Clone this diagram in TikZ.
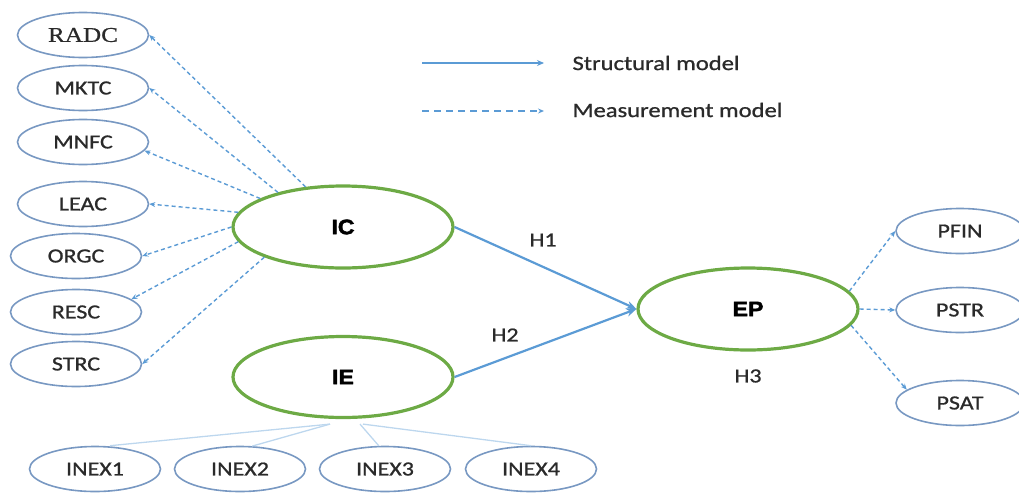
\documentclass[tikz,border=0pt]{standalone}
\usepackage{fontspec}
\usetikzlibrary{shapes.geometric,arrows.meta,calc}
\setmainfont{Carlito}
\newfontfamily\labfont[FakeStretch=1.2,FakeBold=0.9]{Carlito}
\newfontfamily\serfont[FakeStretch=1.2,FakeBold=0.6]{Liberation Serif}
\newfontfamily\hdfont[FakeStretch=1.1,FakeBold=2.2]{Liberation Sans}
\definecolor{indborder}{HTML}{7898C2}
\definecolor{latgreen}{HTML}{6DAA45}
\definecolor{pathblue}{HTML}{5B9BD5}
\definecolor{loadblue}{HTML}{BDD7EE}
\definecolor{txt}{HTML}{2A2A2A}
\tikzset{
  indicator/.style={ellipse, draw=indborder, line width=1.6pt, minimum width=131pt,
    minimum height=45pt, inner sep=0pt, text=txt, font=\labfont\fontsize{20}{24}\selectfont},
  latent/.style={ellipse, draw=latgreen, line width=3.2pt, minimum width=220pt,
    minimum height=82pt, inner sep=0pt, text=black,
    font=\hdfont\bfseries\fontsize{21}{25}\selectfont},
  structural/.style={draw=pathblue, line width=2.2pt, -{Stealth[length=10pt,width=8pt]}},
  measurement/.style={draw=pathblue, line width=1.4pt, dash pattern=on 4pt off 3pt,
    -{Stealth[length=6pt,width=5pt]}},
  formative/.style={draw=loadblue, line width=1.3pt},
  hlabel/.style={text=txt, font=\labfont\fontsize{20}{24}\selectfont},
}
\begin{document}
\begin{tikzpicture}[x=1pt,y=-1pt]
\useasboundingbox (0,0) rectangle (1019,493);

% latent constructs
\node[latent] (ic) at (343,227) {IC};
\node[latent, minimum height=81pt] (ie) at (343,377) {IE};
\node[latent] (ep) at (748,309) {EP};

% indicators of IC
\node[indicator, font=\serfont\fontsize{21}{25}\selectfont] (radc) at (83,35) {RADC};
\node[indicator] (mktc) at (83,88) {MKTC};
\node[indicator] (mnfc) at (83,142) {MNFC};
\node[indicator] (leac) at (83,204) {LEAC};
\node[indicator] (orgc) at (76,256) {ORGC};
\node[indicator] (resc) at (76,312) {RESC};
\node[indicator] (strc) at (76,364) {STRC};

% indicators of IE
\node[indicator] (inex1) at (95,469) {INEX1};
\node[indicator] (inex2) at (240,469) {INEX2};
\node[indicator] (inex3) at (385,469) {INEX3};
\node[indicator] (inex4) at (531,469) {INEX4};

% indicators of EP
\node[indicator, minimum width=128pt] (pfin) at (960,231) {PFIN};
\node[indicator, minimum width=128pt] (pstr) at (960,310) {PSTR};
\node[indicator, minimum width=128pt] (psat) at (960,403) {PSAT};

% structural paths
\draw[structural] (ic.east) -- (ep.west);
\draw[structural] (ie.east) -- (ep.west);
\node[hlabel] (h1) at (543,240) {H1};
\node[hlabel] (h2) at (505,335) {H2};
\node[hlabel] (h3) at (748,376) {H3};

% measurement paths of IC
\draw[measurement] (ic.133) -- (radc.east);
\draw[measurement] (ic.152) -- (mktc.east);
\draw[measurement] (ic.161) -- (mnfc.-8);
\draw[measurement] (ic.172) -- (leac.east);
\draw[measurement] (ic.180) -- (orgc.east);
\draw[measurement] (ic.188) -- (resc.13);
\draw[measurement] (ic.201) -- (strc.east);

% measurement paths of EP
\draw[measurement] (ep.10) -- (pfin.west);
\draw[measurement] (ep.east) -- (pstr.west);
\draw[measurement] (ep.-9) -- (psat.166);

% indicators forming IE
\draw[formative] ($(ie.south)+(-13,5)$) -- ($(inex1.north)+(15,0)$);
\draw[formative] ($(ie.south)+(-13,5)$) -- (inex2.62);
\draw[formative] ($(ie.south)+(17,5)$) -- (inex3.105);
\draw[formative] ($(ie.south)+(20,5)$) -- (inex4.north);

% legend
\coordinate (lsa) at (422,63);
\coordinate (lsb) at (544,63);
\coordinate (lma) at (422,111);
\coordinate (lmb) at (544,111);
\draw[structural, line width=1.8pt, -{Stealth[length=7pt,width=6pt]}] (lsa) -- (lsb);
\draw[measurement, line width=1.1pt, dash pattern=on 7pt off 5pt] (lma) -- (lmb);
\node[hlabel, anchor=west, font=\labfont\fontsize{20.5}{24}\selectfont] (lstr) at (569,63) {Structural model};
\node[hlabel, anchor=west, font=\labfont\fontsize{20.5}{24}\selectfont] (lmeas) at (569,110) {Measurement model};
\end{tikzpicture}
\end{document}
